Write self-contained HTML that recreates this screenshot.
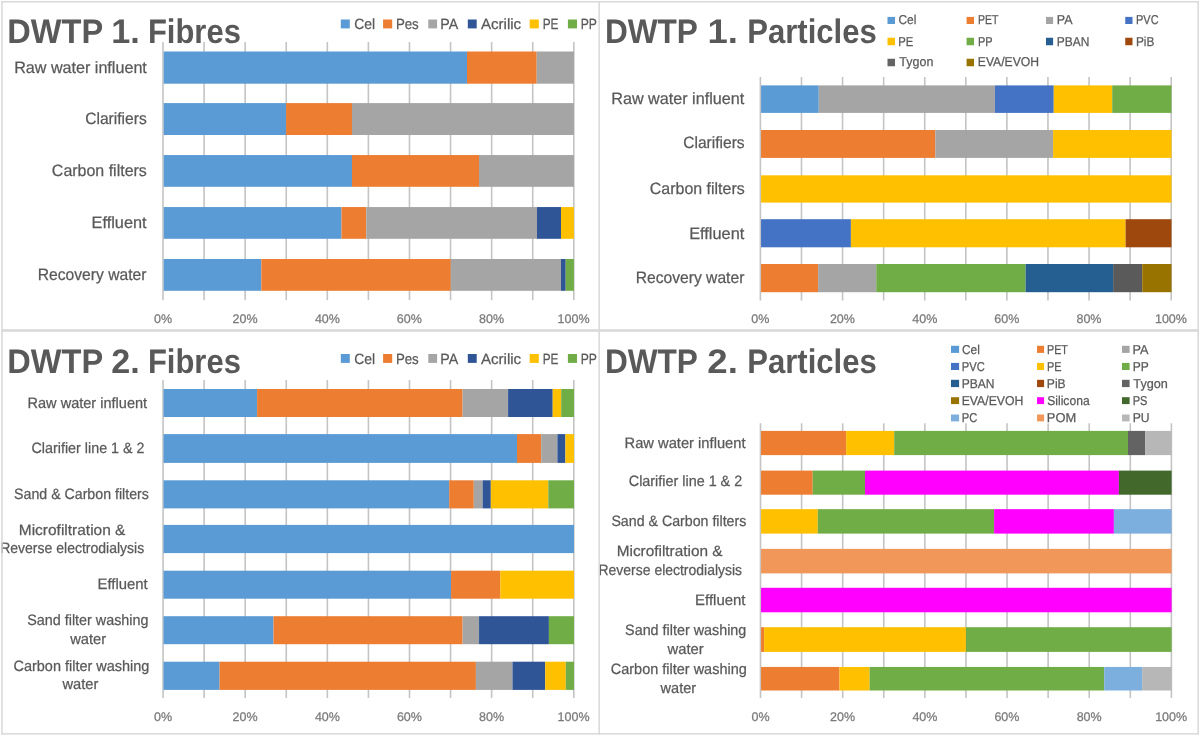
<!DOCTYPE html>
<html><head><meta charset="utf-8"><style>html,body{margin:0;padding:0;background:#fff;}svg{display:block;will-change:transform;} text{text-rendering:geometricPrecision;}</style></head>
<body><svg width="1200" height="736" viewBox="0 0 1200 736" font-family="Liberation Sans, sans-serif">
<rect width="1200" height="736" fill="#fff"/>
<rect x="162.20" y="42.00" width="1.6" height="258.20" fill="#C4C4C4"/>
<rect x="203.28" y="42.00" width="1.6" height="258.20" fill="#C4C4C4"/>
<rect x="244.36" y="42.00" width="1.6" height="258.20" fill="#C4C4C4"/>
<rect x="285.44" y="42.00" width="1.6" height="258.20" fill="#C4C4C4"/>
<rect x="326.52" y="42.00" width="1.6" height="258.20" fill="#C4C4C4"/>
<rect x="367.60" y="42.00" width="1.6" height="258.20" fill="#C4C4C4"/>
<rect x="408.68" y="42.00" width="1.6" height="258.20" fill="#C4C4C4"/>
<rect x="449.76" y="42.00" width="1.6" height="258.20" fill="#C4C4C4"/>
<rect x="490.84" y="42.00" width="1.6" height="258.20" fill="#C4C4C4"/>
<rect x="531.92" y="42.00" width="1.6" height="258.20" fill="#C4C4C4"/>
<rect x="573.00" y="42.00" width="1.6" height="258.20" fill="#C4C4C4"/>
<rect x="163.70" y="51.50" width="303.30" height="32.20" fill="#5B9BD5"/>
<rect x="467.00" y="51.50" width="69.70" height="32.20" fill="#ED7D31"/>
<rect x="536.70" y="51.50" width="37.20" height="32.20" fill="#A5A5A5"/>
<rect x="163.70" y="103.10" width="122.40" height="31.90" fill="#5B9BD5"/>
<rect x="286.10" y="103.10" width="65.90" height="31.90" fill="#ED7D31"/>
<rect x="352.00" y="103.10" width="221.90" height="31.90" fill="#A5A5A5"/>
<rect x="163.70" y="155.05" width="188.30" height="31.75" fill="#5B9BD5"/>
<rect x="352.00" y="155.05" width="127.00" height="31.75" fill="#ED7D31"/>
<rect x="479.00" y="155.05" width="94.90" height="31.75" fill="#A5A5A5"/>
<rect x="163.70" y="207.05" width="177.80" height="31.75" fill="#5B9BD5"/>
<rect x="341.50" y="207.05" width="24.80" height="31.75" fill="#ED7D31"/>
<rect x="366.30" y="207.05" width="170.70" height="31.75" fill="#A5A5A5"/>
<rect x="537.00" y="207.05" width="24.00" height="31.75" fill="#2F5597"/>
<rect x="561.00" y="207.05" width="12.90" height="31.75" fill="#FFC000"/>
<rect x="163.70" y="259.00" width="97.60" height="31.80" fill="#5B9BD5"/>
<rect x="261.30" y="259.00" width="189.50" height="31.80" fill="#ED7D31"/>
<rect x="450.80" y="259.00" width="110.20" height="31.80" fill="#A5A5A5"/>
<rect x="561.00" y="259.00" width="4.70" height="31.80" fill="#2F5597"/>
<rect x="565.70" y="259.00" width="8.20" height="31.80" fill="#70AD47"/>
<text x="153.94" y="323.20" font-size="12.5" font-weight="normal" fill="#7A7A7A" stroke="#7A7A7A" stroke-width="0.25">0%</text>
<text x="232.53" y="323.20" font-size="12.5" font-weight="normal" fill="#7A7A7A" stroke="#7A7A7A" stroke-width="0.25">20%</text>
<text x="314.88" y="323.20" font-size="12.5" font-weight="normal" fill="#7A7A7A" stroke="#7A7A7A" stroke-width="0.25">40%</text>
<text x="396.85" y="323.20" font-size="12.5" font-weight="normal" fill="#7A7A7A" stroke="#7A7A7A" stroke-width="0.25">60%</text>
<text x="479.08" y="323.20" font-size="12.5" font-weight="normal" fill="#7A7A7A" stroke="#7A7A7A" stroke-width="0.25">80%</text>
<text x="557.55" y="323.20" font-size="12.5" font-weight="normal" fill="#7A7A7A" stroke="#7A7A7A" stroke-width="0.25">100%</text>
<rect x="759.60" y="77.00" width="1.6" height="223.50" fill="#C4C4C4"/>
<rect x="800.68" y="77.00" width="1.6" height="223.50" fill="#C4C4C4"/>
<rect x="841.76" y="77.00" width="1.6" height="223.50" fill="#C4C4C4"/>
<rect x="882.84" y="77.00" width="1.6" height="223.50" fill="#C4C4C4"/>
<rect x="923.92" y="77.00" width="1.6" height="223.50" fill="#C4C4C4"/>
<rect x="965.00" y="77.00" width="1.6" height="223.50" fill="#C4C4C4"/>
<rect x="1006.08" y="77.00" width="1.6" height="223.50" fill="#C4C4C4"/>
<rect x="1047.16" y="77.00" width="1.6" height="223.50" fill="#C4C4C4"/>
<rect x="1088.24" y="77.00" width="1.6" height="223.50" fill="#C4C4C4"/>
<rect x="1129.32" y="77.00" width="1.6" height="223.50" fill="#C4C4C4"/>
<rect x="1170.40" y="77.00" width="1.6" height="223.50" fill="#C4C4C4"/>
<rect x="761.05" y="85.40" width="57.70" height="27.50" fill="#5B9BD5"/>
<rect x="818.75" y="85.40" width="176.25" height="27.50" fill="#A5A5A5"/>
<rect x="995.00" y="85.40" width="58.75" height="27.50" fill="#4472C4"/>
<rect x="1053.75" y="85.40" width="58.45" height="27.50" fill="#FFC000"/>
<rect x="1112.20" y="85.40" width="59.30" height="27.50" fill="#70AD47"/>
<rect x="761.05" y="130.00" width="174.25" height="27.90" fill="#ED7D31"/>
<rect x="935.30" y="130.00" width="117.80" height="27.90" fill="#A5A5A5"/>
<rect x="1053.10" y="130.00" width="118.40" height="27.90" fill="#FFC000"/>
<rect x="761.05" y="175.30" width="410.45" height="27.30" fill="#FFC000"/>
<rect x="761.05" y="219.20" width="89.85" height="28.10" fill="#4472C4"/>
<rect x="850.90" y="219.20" width="274.70" height="28.10" fill="#FFC000"/>
<rect x="1125.60" y="219.20" width="45.90" height="28.10" fill="#9E480E"/>
<rect x="761.05" y="264.00" width="57.05" height="28.20" fill="#ED7D31"/>
<rect x="818.10" y="264.00" width="58.15" height="28.20" fill="#A5A5A5"/>
<rect x="876.25" y="264.00" width="149.35" height="28.20" fill="#70AD47"/>
<rect x="1025.60" y="264.00" width="87.50" height="28.20" fill="#255E91"/>
<rect x="1113.10" y="264.00" width="29.10" height="28.20" fill="#5A5A5A"/>
<rect x="1142.20" y="264.00" width="29.30" height="28.20" fill="#997300"/>
<text x="751.34" y="323.00" font-size="12.5" font-weight="normal" fill="#7A7A7A" stroke="#7A7A7A" stroke-width="0.25">0%</text>
<text x="829.93" y="323.00" font-size="12.5" font-weight="normal" fill="#7A7A7A" stroke="#7A7A7A" stroke-width="0.25">20%</text>
<text x="912.28" y="323.00" font-size="12.5" font-weight="normal" fill="#7A7A7A" stroke="#7A7A7A" stroke-width="0.25">40%</text>
<text x="994.25" y="323.00" font-size="12.5" font-weight="normal" fill="#7A7A7A" stroke="#7A7A7A" stroke-width="0.25">60%</text>
<text x="1076.48" y="323.00" font-size="12.5" font-weight="normal" fill="#7A7A7A" stroke="#7A7A7A" stroke-width="0.25">80%</text>
<text x="1154.95" y="323.00" font-size="12.5" font-weight="normal" fill="#7A7A7A" stroke="#7A7A7A" stroke-width="0.25">100%</text>
<rect x="162.25" y="380.05" width="1.6" height="317.95" fill="#C4C4C4"/>
<rect x="203.32" y="380.05" width="1.6" height="317.95" fill="#C4C4C4"/>
<rect x="244.40" y="380.05" width="1.6" height="317.95" fill="#C4C4C4"/>
<rect x="285.47" y="380.05" width="1.6" height="317.95" fill="#C4C4C4"/>
<rect x="326.55" y="380.05" width="1.6" height="317.95" fill="#C4C4C4"/>
<rect x="367.62" y="380.05" width="1.6" height="317.95" fill="#C4C4C4"/>
<rect x="408.70" y="380.05" width="1.6" height="317.95" fill="#C4C4C4"/>
<rect x="449.77" y="380.05" width="1.6" height="317.95" fill="#C4C4C4"/>
<rect x="490.85" y="380.05" width="1.6" height="317.95" fill="#C4C4C4"/>
<rect x="531.92" y="380.05" width="1.6" height="317.95" fill="#C4C4C4"/>
<rect x="573.00" y="380.05" width="1.6" height="317.95" fill="#C4C4C4"/>
<rect x="163.50" y="389.00" width="93.60" height="28.00" fill="#5B9BD5"/>
<rect x="257.10" y="389.00" width="205.50" height="28.00" fill="#ED7D31"/>
<rect x="462.60" y="389.00" width="45.50" height="28.00" fill="#A5A5A5"/>
<rect x="508.10" y="389.00" width="44.60" height="28.00" fill="#2F5597"/>
<rect x="552.70" y="389.00" width="8.50" height="28.00" fill="#FFC000"/>
<rect x="561.20" y="389.00" width="12.80" height="28.00" fill="#70AD47"/>
<rect x="163.50" y="434.10" width="353.50" height="28.80" fill="#5B9BD5"/>
<rect x="517.00" y="434.10" width="24.20" height="28.80" fill="#ED7D31"/>
<rect x="541.20" y="434.10" width="16.20" height="28.80" fill="#A5A5A5"/>
<rect x="557.40" y="434.10" width="8.00" height="28.80" fill="#2F5597"/>
<rect x="565.40" y="434.10" width="8.60" height="28.80" fill="#FFC000"/>
<rect x="163.50" y="480.30" width="285.70" height="28.10" fill="#5B9BD5"/>
<rect x="449.20" y="480.30" width="24.60" height="28.10" fill="#ED7D31"/>
<rect x="473.80" y="480.30" width="8.80" height="28.10" fill="#A5A5A5"/>
<rect x="482.60" y="480.30" width="8.20" height="28.10" fill="#2F5597"/>
<rect x="490.80" y="480.30" width="57.50" height="28.10" fill="#FFC000"/>
<rect x="548.30" y="480.30" width="25.70" height="28.10" fill="#70AD47"/>
<rect x="163.50" y="524.90" width="410.50" height="28.20" fill="#5B9BD5"/>
<rect x="163.50" y="570.70" width="287.55" height="28.00" fill="#5B9BD5"/>
<rect x="451.05" y="570.70" width="49.25" height="28.00" fill="#ED7D31"/>
<rect x="500.30" y="570.70" width="73.70" height="28.00" fill="#FFC000"/>
<rect x="163.50" y="616.20" width="110.00" height="28.00" fill="#5B9BD5"/>
<rect x="273.50" y="616.20" width="189.10" height="28.00" fill="#ED7D31"/>
<rect x="462.60" y="616.20" width="16.45" height="28.00" fill="#A5A5A5"/>
<rect x="479.05" y="616.20" width="69.85" height="28.00" fill="#2F5597"/>
<rect x="548.90" y="616.20" width="25.10" height="28.00" fill="#70AD47"/>
<rect x="163.50" y="661.70" width="56.10" height="28.20" fill="#5B9BD5"/>
<rect x="219.60" y="661.70" width="256.30" height="28.20" fill="#ED7D31"/>
<rect x="475.90" y="661.70" width="36.60" height="28.20" fill="#A5A5A5"/>
<rect x="512.50" y="661.70" width="32.70" height="28.20" fill="#2F5597"/>
<rect x="545.20" y="661.70" width="20.60" height="28.20" fill="#FFC000"/>
<rect x="565.80" y="661.70" width="8.20" height="28.20" fill="#70AD47"/>
<text x="153.99" y="721.00" font-size="12.5" font-weight="normal" fill="#7A7A7A" stroke="#7A7A7A" stroke-width="0.25">0%</text>
<text x="232.57" y="721.00" font-size="12.5" font-weight="normal" fill="#7A7A7A" stroke="#7A7A7A" stroke-width="0.25">20%</text>
<text x="314.91" y="721.00" font-size="12.5" font-weight="normal" fill="#7A7A7A" stroke="#7A7A7A" stroke-width="0.25">40%</text>
<text x="396.88" y="721.00" font-size="12.5" font-weight="normal" fill="#7A7A7A" stroke="#7A7A7A" stroke-width="0.25">60%</text>
<text x="479.09" y="721.00" font-size="12.5" font-weight="normal" fill="#7A7A7A" stroke="#7A7A7A" stroke-width="0.25">80%</text>
<text x="557.55" y="721.00" font-size="12.5" font-weight="normal" fill="#7A7A7A" stroke="#7A7A7A" stroke-width="0.25">100%</text>
<rect x="759.70" y="423.30" width="1.6" height="274.70" fill="#C4C4C4"/>
<rect x="800.79" y="423.30" width="1.6" height="274.70" fill="#C4C4C4"/>
<rect x="841.88" y="423.30" width="1.6" height="274.70" fill="#C4C4C4"/>
<rect x="882.97" y="423.30" width="1.6" height="274.70" fill="#C4C4C4"/>
<rect x="924.06" y="423.30" width="1.6" height="274.70" fill="#C4C4C4"/>
<rect x="965.15" y="423.30" width="1.6" height="274.70" fill="#C4C4C4"/>
<rect x="1006.24" y="423.30" width="1.6" height="274.70" fill="#C4C4C4"/>
<rect x="1047.33" y="423.30" width="1.6" height="274.70" fill="#C4C4C4"/>
<rect x="1088.42" y="423.30" width="1.6" height="274.70" fill="#C4C4C4"/>
<rect x="1129.51" y="423.30" width="1.6" height="274.70" fill="#C4C4C4"/>
<rect x="1170.60" y="423.30" width="1.6" height="274.70" fill="#C4C4C4"/>
<rect x="761.05" y="430.90" width="85.15" height="24.20" fill="#ED7D31"/>
<rect x="846.20" y="430.90" width="48.00" height="24.20" fill="#FFC000"/>
<rect x="894.20" y="430.90" width="233.80" height="24.20" fill="#70AD47"/>
<rect x="1128.00" y="430.90" width="17.05" height="24.20" fill="#636363"/>
<rect x="1145.05" y="430.90" width="26.55" height="24.20" fill="#B7B7B7"/>
<rect x="761.05" y="470.60" width="51.65" height="24.10" fill="#ED7D31"/>
<rect x="812.70" y="470.60" width="52.30" height="24.10" fill="#70AD47"/>
<rect x="865.00" y="470.60" width="253.90" height="24.10" fill="#FF00FF"/>
<rect x="1118.90" y="470.60" width="52.70" height="24.10" fill="#43682B"/>
<rect x="761.05" y="509.15" width="56.75" height="24.45" fill="#FFC000"/>
<rect x="817.80" y="509.15" width="176.30" height="24.45" fill="#70AD47"/>
<rect x="994.10" y="509.15" width="119.80" height="24.45" fill="#FF00FF"/>
<rect x="1113.90" y="509.15" width="57.70" height="24.45" fill="#7CAFDD"/>
<rect x="761.05" y="548.85" width="410.55" height="24.55" fill="#F1975A"/>
<rect x="761.05" y="587.80" width="410.55" height="24.50" fill="#FF00FF"/>
<rect x="761.05" y="627.20" width="3.05" height="24.70" fill="#ED7D31"/>
<rect x="764.10" y="627.20" width="201.80" height="24.70" fill="#FFC000"/>
<rect x="965.90" y="627.20" width="205.70" height="24.70" fill="#70AD47"/>
<rect x="761.05" y="666.95" width="78.45" height="23.55" fill="#ED7D31"/>
<rect x="839.50" y="666.95" width="30.10" height="23.55" fill="#FFC000"/>
<rect x="869.60" y="666.95" width="234.60" height="23.55" fill="#70AD47"/>
<rect x="1104.20" y="666.95" width="37.90" height="23.55" fill="#7CAFDD"/>
<rect x="1142.10" y="666.95" width="29.50" height="23.55" fill="#B7B7B7"/>
<text x="751.44" y="721.00" font-size="12.5" font-weight="normal" fill="#7A7A7A" stroke="#7A7A7A" stroke-width="0.25">0%</text>
<text x="830.06" y="721.00" font-size="12.5" font-weight="normal" fill="#7A7A7A" stroke="#7A7A7A" stroke-width="0.25">20%</text>
<text x="912.42" y="721.00" font-size="12.5" font-weight="normal" fill="#7A7A7A" stroke="#7A7A7A" stroke-width="0.25">40%</text>
<text x="994.42" y="721.00" font-size="12.5" font-weight="normal" fill="#7A7A7A" stroke="#7A7A7A" stroke-width="0.25">60%</text>
<text x="1076.66" y="721.00" font-size="12.5" font-weight="normal" fill="#7A7A7A" stroke="#7A7A7A" stroke-width="0.25">80%</text>
<text x="1155.15" y="721.00" font-size="12.5" font-weight="normal" fill="#7A7A7A" stroke="#7A7A7A" stroke-width="0.25">100%</text>
<text x="7.24" y="43.00" font-size="34" font-weight="bold" textLength="95.92" lengthAdjust="spacingAndGlyphs" fill="#595959">DWTP</text>
<text x="111.36" y="43.00" font-size="34" font-weight="bold" textLength="28.50" lengthAdjust="spacingAndGlyphs" fill="#595959">1.</text>
<text x="147.95" y="43.00" font-size="34" font-weight="bold" textLength="92.93" lengthAdjust="spacingAndGlyphs" fill="#595959">Fibres</text>
<text x="604.91" y="43.00" font-size="34" font-weight="bold" textLength="93.02" lengthAdjust="spacingAndGlyphs" fill="#595959">DWTP</text>
<text x="707.42" y="43.00" font-size="34" font-weight="bold" textLength="30.40" lengthAdjust="spacingAndGlyphs" fill="#595959">1.</text>
<text x="747.24" y="43.00" font-size="34" font-weight="bold" textLength="129.52" lengthAdjust="spacingAndGlyphs" fill="#595959">Particles</text>
<text x="7.24" y="373.00" font-size="34" font-weight="bold" textLength="95.92" lengthAdjust="spacingAndGlyphs" fill="#595959">DWTP</text>
<text x="111.37" y="373.00" font-size="34" font-weight="bold" textLength="28.50" lengthAdjust="spacingAndGlyphs" fill="#595959">2.</text>
<text x="147.95" y="373.00" font-size="34" font-weight="bold" textLength="92.93" lengthAdjust="spacingAndGlyphs" fill="#595959">Fibres</text>
<text x="604.91" y="373.00" font-size="34" font-weight="bold" textLength="93.02" lengthAdjust="spacingAndGlyphs" fill="#595959">DWTP</text>
<text x="707.29" y="373.00" font-size="34" font-weight="bold" textLength="30.55" lengthAdjust="spacingAndGlyphs" fill="#595959">2.</text>
<text x="747.24" y="373.00" font-size="34" font-weight="bold" textLength="129.52" lengthAdjust="spacingAndGlyphs" fill="#595959">Particles</text>
<text x="14.15" y="72.80" font-size="16.4" font-weight="normal" textLength="132.70" lengthAdjust="spacingAndGlyphs" fill="#595959" stroke="#595959" stroke-width="0.25">Raw water influent</text>
<text x="85.17" y="124.00" font-size="16.4" font-weight="normal" textLength="61.57" lengthAdjust="spacingAndGlyphs" fill="#595959" stroke="#595959" stroke-width="0.25">Clarifiers</text>
<text x="51.85" y="176.25" font-size="16.4" font-weight="normal" textLength="94.98" lengthAdjust="spacingAndGlyphs" fill="#595959" stroke="#595959" stroke-width="0.25">Carbon filters</text>
<text x="91.53" y="228.00" font-size="16.4" font-weight="normal" textLength="55.06" lengthAdjust="spacingAndGlyphs" fill="#595959" stroke="#595959" stroke-width="0.25">Effluent</text>
<text x="37.69" y="279.80" font-size="16.4" font-weight="normal" textLength="108.79" lengthAdjust="spacingAndGlyphs" fill="#595959" stroke="#595959" stroke-width="0.25">Recovery water</text>
<text x="611.24" y="103.90" font-size="16.4" font-weight="normal" textLength="133.00" lengthAdjust="spacingAndGlyphs" fill="#595959" stroke="#595959" stroke-width="0.25">Raw water influent</text>
<text x="683.27" y="148.20" font-size="16.4" font-weight="normal" textLength="61.37" lengthAdjust="spacingAndGlyphs" fill="#595959" stroke="#595959" stroke-width="0.25">Clarifiers</text>
<text x="649.85" y="193.60" font-size="16.4" font-weight="normal" textLength="94.88" lengthAdjust="spacingAndGlyphs" fill="#595959" stroke="#595959" stroke-width="0.25">Carbon filters</text>
<text x="689.13" y="238.50" font-size="16.4" font-weight="normal" textLength="55.16" lengthAdjust="spacingAndGlyphs" fill="#595959" stroke="#595959" stroke-width="0.25">Effluent</text>
<text x="635.69" y="283.30" font-size="16.4" font-weight="normal" textLength="108.69" lengthAdjust="spacingAndGlyphs" fill="#595959" stroke="#595959" stroke-width="0.25">Recovery water</text>
<text x="27.54" y="407.90" font-size="15" font-weight="normal" textLength="119.60" lengthAdjust="spacingAndGlyphs" fill="#595959" stroke="#595959" stroke-width="0.25">Raw water influent</text>
<text x="31.53" y="453.10" font-size="15" font-weight="normal" textLength="112.99" lengthAdjust="spacingAndGlyphs" fill="#595959" stroke="#595959" stroke-width="0.25">Clarifier line 1 &amp; 2</text>
<text x="14.09" y="498.50" font-size="15" font-weight="normal" textLength="134.75" lengthAdjust="spacingAndGlyphs" fill="#595959" stroke="#595959" stroke-width="0.25">Sand &amp; Carbon filters</text>
<text x="18.81" y="534.50" font-size="15" font-weight="normal" textLength="106.63" lengthAdjust="spacingAndGlyphs" fill="#595959" stroke="#595959" stroke-width="0.25">Microfiltration &amp;</text>
<text x="0.13" y="552.80" font-size="15" font-weight="normal" textLength="144.13" lengthAdjust="spacingAndGlyphs" fill="#595959" stroke="#595959" stroke-width="0.25">Reverse electrodialysis</text>
<text x="97.56" y="588.70" font-size="15" font-weight="normal" textLength="50.13" lengthAdjust="spacingAndGlyphs" fill="#595959" stroke="#595959" stroke-width="0.25">Effluent</text>
<text x="27.18" y="624.80" font-size="15" font-weight="normal" textLength="121.36" lengthAdjust="spacingAndGlyphs" fill="#595959" stroke="#595959" stroke-width="0.25">Sand filter washing</text>
<text x="70.20" y="644.00" font-size="15" font-weight="normal" textLength="35.90" lengthAdjust="spacingAndGlyphs" fill="#595959" stroke="#595959" stroke-width="0.25">water</text>
<text x="13.48" y="670.50" font-size="15" font-weight="normal" textLength="135.92" lengthAdjust="spacingAndGlyphs" fill="#595959" stroke="#595959" stroke-width="0.25">Carbon filter washing</text>
<text x="62.50" y="689.40" font-size="15" font-weight="normal" textLength="35.90" lengthAdjust="spacingAndGlyphs" fill="#595959" stroke="#595959" stroke-width="0.25">water</text>
<text x="624.57" y="447.80" font-size="15" font-weight="normal" textLength="120.97" lengthAdjust="spacingAndGlyphs" fill="#595959" stroke="#595959" stroke-width="0.25">Raw water influent</text>
<text x="628.78" y="486.30" font-size="15" font-weight="normal" textLength="113.44" lengthAdjust="spacingAndGlyphs" fill="#595959" stroke="#595959" stroke-width="0.25">Clarifier line 1 &amp; 2</text>
<text x="611.39" y="526.10" font-size="15" font-weight="normal" textLength="134.95" lengthAdjust="spacingAndGlyphs" fill="#595959" stroke="#595959" stroke-width="0.25">Sand &amp; Carbon filters</text>
<text x="616.72" y="555.90" font-size="15" font-weight="normal" textLength="105.82" lengthAdjust="spacingAndGlyphs" fill="#595959" stroke="#595959" stroke-width="0.25">Microfiltration &amp;</text>
<text x="598.54" y="574.80" font-size="15" font-weight="normal" textLength="143.52" lengthAdjust="spacingAndGlyphs" fill="#595959" stroke="#595959" stroke-width="0.25">Reverse electrodialysis</text>
<text x="695.05" y="604.80" font-size="15" font-weight="normal" textLength="50.44" lengthAdjust="spacingAndGlyphs" fill="#595959" stroke="#595959" stroke-width="0.25">Effluent</text>
<text x="625.08" y="634.80" font-size="15" font-weight="normal" textLength="121.26" lengthAdjust="spacingAndGlyphs" fill="#595959" stroke="#595959" stroke-width="0.25">Sand filter washing</text>
<text x="667.60" y="653.70" font-size="15" font-weight="normal" textLength="36.10" lengthAdjust="spacingAndGlyphs" fill="#595959" stroke="#595959" stroke-width="0.25">water</text>
<text x="610.78" y="673.90" font-size="15" font-weight="normal" textLength="136.02" lengthAdjust="spacingAndGlyphs" fill="#595959" stroke="#595959" stroke-width="0.25">Carbon filter washing</text>
<text x="660.60" y="692.80" font-size="15" font-weight="normal" textLength="35.49" lengthAdjust="spacingAndGlyphs" fill="#595959" stroke="#595959" stroke-width="0.25">water</text>
<rect x="340.80" y="19.50" width="9.00" height="8.90" fill="#5B9BD5"/>
<text x="354.29" y="29.00" font-size="14.8" font-weight="normal" textLength="20.91" lengthAdjust="spacingAndGlyphs" fill="#595959" stroke="#595959" stroke-width="0.25">Cel</text>
<rect x="383.10" y="19.50" width="9.10" height="8.90" fill="#ED7D31"/>
<text x="395.88" y="29.00" font-size="14.8" font-weight="normal" textLength="22.87" lengthAdjust="spacingAndGlyphs" fill="#595959" stroke="#595959" stroke-width="0.25">Pes</text>
<rect x="428.30" y="19.50" width="8.80" height="8.90" fill="#A5A5A5"/>
<text x="440.30" y="29.00" font-size="14.8" font-weight="normal" textLength="17.92" lengthAdjust="spacingAndGlyphs" fill="#595959" stroke="#595959" stroke-width="0.25">PA</text>
<rect x="467.80" y="19.50" width="8.90" height="8.90" fill="#2F5597"/>
<text x="480.90" y="29.00" font-size="14.8" font-weight="normal" textLength="40.27" lengthAdjust="spacingAndGlyphs" fill="#595959" stroke="#595959" stroke-width="0.25">Acrilic</text>
<rect x="529.70" y="19.50" width="9.10" height="8.90" fill="#FFC000"/>
<text x="542.70" y="29.00" font-size="14.8" font-weight="normal" textLength="15.79" lengthAdjust="spacingAndGlyphs" fill="#595959" stroke="#595959" stroke-width="0.25">PE</text>
<rect x="567.90" y="19.50" width="9.10" height="8.90" fill="#70AD47"/>
<text x="580.67" y="29.00" font-size="14.8" font-weight="normal" textLength="16.24" lengthAdjust="spacingAndGlyphs" fill="#595959" stroke="#595959" stroke-width="0.25">PP</text>
<rect x="340.80" y="354.00" width="9.00" height="8.90" fill="#5B9BD5"/>
<text x="354.29" y="363.50" font-size="14.8" font-weight="normal" textLength="20.91" lengthAdjust="spacingAndGlyphs" fill="#595959" stroke="#595959" stroke-width="0.25">Cel</text>
<rect x="383.10" y="354.00" width="9.10" height="8.90" fill="#ED7D31"/>
<text x="395.88" y="363.50" font-size="14.8" font-weight="normal" textLength="22.87" lengthAdjust="spacingAndGlyphs" fill="#595959" stroke="#595959" stroke-width="0.25">Pes</text>
<rect x="428.30" y="354.00" width="8.80" height="8.90" fill="#A5A5A5"/>
<text x="440.30" y="363.50" font-size="14.8" font-weight="normal" textLength="17.92" lengthAdjust="spacingAndGlyphs" fill="#595959" stroke="#595959" stroke-width="0.25">PA</text>
<rect x="467.80" y="354.00" width="8.90" height="8.90" fill="#2F5597"/>
<text x="480.90" y="363.50" font-size="14.8" font-weight="normal" textLength="40.27" lengthAdjust="spacingAndGlyphs" fill="#595959" stroke="#595959" stroke-width="0.25">Acrilic</text>
<rect x="529.70" y="354.00" width="9.10" height="8.90" fill="#FFC000"/>
<text x="542.70" y="363.50" font-size="14.8" font-weight="normal" textLength="15.79" lengthAdjust="spacingAndGlyphs" fill="#595959" stroke="#595959" stroke-width="0.25">PE</text>
<rect x="567.90" y="354.00" width="9.10" height="8.90" fill="#70AD47"/>
<text x="580.67" y="363.50" font-size="14.8" font-weight="normal" textLength="16.24" lengthAdjust="spacingAndGlyphs" fill="#595959" stroke="#595959" stroke-width="0.25">PP</text>
<rect x="887.50" y="16.90" width="7.50" height="7.10" fill="#5B9BD5"/>
<text x="898.52" y="23.75" font-size="12.9" font-weight="normal" textLength="17.87" lengthAdjust="spacingAndGlyphs" fill="#595959" stroke="#595959" stroke-width="0.25">Cel</text>
<rect x="966.60" y="16.90" width="7.40" height="7.10" fill="#ED7D31"/>
<text x="977.94" y="23.75" font-size="12.9" font-weight="normal" textLength="20.44" lengthAdjust="spacingAndGlyphs" fill="#595959" stroke="#595959" stroke-width="0.25">PET</text>
<rect x="1046.00" y="16.90" width="7.10" height="7.10" fill="#A5A5A5"/>
<text x="1056.78" y="23.75" font-size="12.9" font-weight="normal" textLength="15.72" lengthAdjust="spacingAndGlyphs" fill="#595959" stroke="#595959" stroke-width="0.25">PA</text>
<rect x="1125.25" y="16.90" width="7.25" height="7.10" fill="#4472C4"/>
<text x="1136.05" y="23.75" font-size="12.9" font-weight="normal" textLength="22.49" lengthAdjust="spacingAndGlyphs" fill="#595959" stroke="#595959" stroke-width="0.25">PVC</text>
<rect x="887.50" y="37.75" width="7.50" height="7.50" fill="#FFC000"/>
<text x="898.23" y="45.60" font-size="12.9" font-weight="normal" textLength="15.03" lengthAdjust="spacingAndGlyphs" fill="#595959" stroke="#595959" stroke-width="0.25">PE</text>
<rect x="966.60" y="37.75" width="7.40" height="7.50" fill="#70AD47"/>
<text x="977.90" y="45.60" font-size="12.9" font-weight="normal" textLength="14.60" lengthAdjust="spacingAndGlyphs" fill="#595959" stroke="#595959" stroke-width="0.25">PP</text>
<rect x="1046.00" y="37.75" width="7.10" height="7.50" fill="#255E91"/>
<text x="1056.82" y="45.60" font-size="12.9" font-weight="normal" textLength="32.61" lengthAdjust="spacingAndGlyphs" fill="#595959" stroke="#595959" stroke-width="0.25">PBAN</text>
<rect x="1125.25" y="37.75" width="7.25" height="7.50" fill="#9E480E"/>
<text x="1135.98" y="45.60" font-size="12.9" font-weight="normal" textLength="18.41" lengthAdjust="spacingAndGlyphs" fill="#595959" stroke="#595959" stroke-width="0.25">PiB</text>
<rect x="887.50" y="58.75" width="7.50" height="7.50" fill="#636363"/>
<text x="899.36" y="66.25" font-size="12.9" font-weight="normal" textLength="34.00" lengthAdjust="spacingAndGlyphs" fill="#595959" stroke="#595959" stroke-width="0.25">Tygon</text>
<rect x="966.60" y="58.75" width="7.40" height="7.50" fill="#997300"/>
<text x="977.81" y="66.25" font-size="12.9" font-weight="normal" textLength="61.22" lengthAdjust="spacingAndGlyphs" fill="#595959" stroke="#595959" stroke-width="0.25">EVA/EVOH</text>
<rect x="951.00" y="345.80" width="8.10" height="7.10" fill="#5B9BD5"/>
<text x="962.02" y="353.60" font-size="12.9" font-weight="normal" textLength="17.87" lengthAdjust="spacingAndGlyphs" fill="#595959" stroke="#595959" stroke-width="0.25">Cel</text>
<rect x="1037.05" y="345.80" width="7.05" height="7.10" fill="#ED7D31"/>
<text x="1046.97" y="353.60" font-size="12.9" font-weight="normal" textLength="20.91" lengthAdjust="spacingAndGlyphs" fill="#595959" stroke="#595959" stroke-width="0.25">PET</text>
<rect x="1122.00" y="345.80" width="7.60" height="7.10" fill="#A5A5A5"/>
<text x="1132.62" y="353.60" font-size="12.9" font-weight="normal" textLength="15.98" lengthAdjust="spacingAndGlyphs" fill="#595959" stroke="#595959" stroke-width="0.25">PA</text>
<rect x="951.00" y="362.90" width="8.10" height="7.10" fill="#4472C4"/>
<text x="961.73" y="370.80" font-size="12.9" font-weight="normal" textLength="23.02" lengthAdjust="spacingAndGlyphs" fill="#595959" stroke="#595959" stroke-width="0.25">PVC</text>
<rect x="1037.05" y="362.90" width="7.05" height="7.10" fill="#FFC000"/>
<text x="1046.96" y="370.80" font-size="12.9" font-weight="normal" textLength="14.54" lengthAdjust="spacingAndGlyphs" fill="#595959" stroke="#595959" stroke-width="0.25">PE</text>
<rect x="1122.00" y="362.90" width="7.60" height="7.10" fill="#70AD47"/>
<text x="1132.67" y="370.80" font-size="12.9" font-weight="normal" textLength="15.99" lengthAdjust="spacingAndGlyphs" fill="#595959" stroke="#595959" stroke-width="0.25">PP</text>
<rect x="951.00" y="379.80" width="8.10" height="7.30" fill="#255E91"/>
<text x="961.67" y="387.60" font-size="12.9" font-weight="normal" textLength="32.77" lengthAdjust="spacingAndGlyphs" fill="#595959" stroke="#595959" stroke-width="0.25">PBAN</text>
<rect x="1037.05" y="379.80" width="7.05" height="7.30" fill="#9E480E"/>
<text x="1046.86" y="387.60" font-size="12.9" font-weight="normal" textLength="18.79" lengthAdjust="spacingAndGlyphs" fill="#595959" stroke="#595959" stroke-width="0.25">PiB</text>
<rect x="1122.00" y="379.80" width="7.60" height="7.30" fill="#636363"/>
<text x="1133.35" y="387.60" font-size="12.9" font-weight="normal" textLength="34.52" lengthAdjust="spacingAndGlyphs" fill="#595959" stroke="#595959" stroke-width="0.25">Tygon</text>
<rect x="951.00" y="397.20" width="8.10" height="6.90" fill="#997300"/>
<text x="961.65" y="404.70" font-size="12.9" font-weight="normal" textLength="61.69" lengthAdjust="spacingAndGlyphs" fill="#595959" stroke="#595959" stroke-width="0.25">EVA/EVOH</text>
<rect x="1037.05" y="397.20" width="7.05" height="6.90" fill="#FF00FF"/>
<text x="1047.21" y="404.70" font-size="12.9" font-weight="normal" textLength="42.43" lengthAdjust="spacingAndGlyphs" fill="#595959" stroke="#595959" stroke-width="0.25">Silicona</text>
<rect x="1122.00" y="397.20" width="7.60" height="6.90" fill="#43682B"/>
<text x="1132.74" y="404.70" font-size="12.9" font-weight="normal" textLength="14.76" lengthAdjust="spacingAndGlyphs" fill="#595959" stroke="#595959" stroke-width="0.25">PS</text>
<rect x="951.00" y="414.50" width="8.10" height="6.90" fill="#7CAFDD"/>
<text x="961.73" y="421.60" font-size="12.9" font-weight="normal" textLength="15.54" lengthAdjust="spacingAndGlyphs" fill="#595959" stroke="#595959" stroke-width="0.25">PC</text>
<rect x="1037.05" y="414.50" width="7.05" height="6.90" fill="#F1975A"/>
<text x="1046.80" y="421.60" font-size="12.9" font-weight="normal" textLength="29.33" lengthAdjust="spacingAndGlyphs" fill="#595959" stroke="#595959" stroke-width="0.25">POM</text>
<rect x="1122.00" y="414.50" width="7.60" height="6.90" fill="#B7B7B7"/>
<text x="1132.66" y="421.60" font-size="12.9" font-weight="normal" textLength="16.93" lengthAdjust="spacingAndGlyphs" fill="#595959" stroke="#595959" stroke-width="0.25">PU</text>
<rect x="1.2" y="1.0" width="1.5" height="733.6" fill="#D9D9D9"/>
<rect x="1.2" y="1.0" width="1197.6" height="1.5" fill="#D9D9D9"/>
<rect x="1197.4" y="1.0" width="1.5" height="733.6" fill="#D9D9D9"/>
<rect x="1.2" y="733.1" width="1197.6" height="1.5" fill="#D9D9D9"/>
<rect x="598.4" y="1.0" width="1.5" height="733.6" fill="#D9D9D9"/>
<rect x="1.2" y="329.2" width="1197.6" height="2.6" fill="#D9D9D9"/>
</svg></body></html>
